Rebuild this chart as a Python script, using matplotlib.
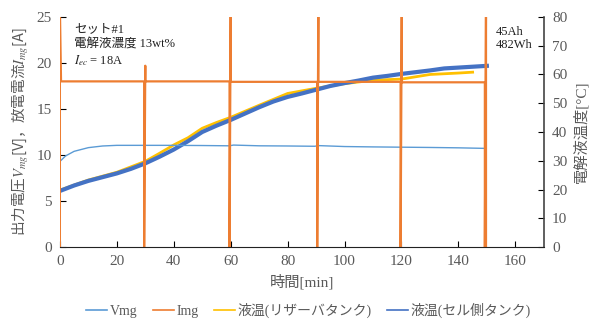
import matplotlib
matplotlib.use("Agg")
import matplotlib.pyplot as plt

# --- fonts ---
plt.rcParams['font.family'] = ['Liberation Serif', 'Noto Sans CJK JP']
plt.rcParams['mathtext.fontset'] = 'stix'

# --- data ---
# discharge current Img [A], with spikes at every 30 min
img_t = [0, 0, 0.4, 29.6, 29.6, 30.0, 30.0, 59.6, 59.6, 60.0, 60.0,
         90.4, 90.4, 90.8, 90.8, 119.7, 119.7, 120.1, 120.1, 149.3, 149.3, 149.7, 149.7]
img_v = [0, 26, 18.0, 18.0, 0, 19.7, 18.0, 18.0, 0, 26, 17.95,
         17.95, 0, 26, 17.95, 17.95, 0, 26, 17.9, 17.9, 0, 26, 0]

# output voltage Vmg [V]
vmg_t = [0, 0, 2, 5, 10, 15, 20, 30, 40, 50, 59.5, 61, 70, 80, 89.5, 91, 100, 110, 120, 130, 140, 149.5, 149.6]
vmg_v = [0, 9.3, 9.9, 10.4, 10.8, 10.98, 11.05, 11.05, 11.05, 11.03, 11.0, 11.08, 11.0, 10.98, 10.95, 11.02,
         10.92, 10.88, 10.85, 10.82, 10.78, 10.72, 0]

# electrolyte temperature, reservoir tank [°C]
res_t = [0, 10, 20, 30, 35, 40, 45, 50, 55, 60, 70, 80, 90, 100, 110, 120, 130, 140, 145]
res_T = [19.8, 23.3, 26.0, 29.8, 32.6, 35.5, 38.0, 41.3, 43.3, 45.1, 49.3, 53.4, 55.2, 56.8, 58.0,
         58.4, 60.0, 60.5, 60.8]

# electrolyte temperature, cell-side tank [°C]
cell_t = [0, 5, 10, 15, 20, 25, 30, 35, 40, 45, 50, 55, 60, 65, 70, 75, 80, 85, 90, 95, 100,
          105, 110, 115, 120, 125, 130, 135, 140, 145, 150]
cell_T = [19.5, 21.4, 23.0, 24.3, 25.6, 27.2, 29.1, 31.4, 33.9, 36.8, 40.0, 42.2, 44.2, 46.4, 48.6,
          50.6, 52.2, 53.4, 54.7, 56.0, 57.0, 57.9, 58.9, 59.5, 60.2, 60.8, 61.4, 62.1, 62.4, 62.7, 63.0]

labels = ["Vmg", "Img", "液温(リザーバタンク)", "液温(セル側タンク)"]
c_vmg, c_img, c_res, c_cell = "#5B9BD5", "#ED7D31", "#FFC000", "#4472C4"
gray = "#595959"

fig = plt.figure(figsize=(5.93, 3.2), dpi=100)
ax = fig.add_axes([0.101, 0.228, 0.816, 0.719])
ax2 = ax.twinx()

# temperature on secondary axis
ax2.plot(res_t, res_T, color=c_res, lw=2.0, label=labels[2])
ax2.plot(cell_t, cell_T, color=c_cell, lw=3.0, label=labels[3])
ax2.set_ylim(0, 80)
ax2.set_yticks(range(0, 81, 10))

ax.set_zorder(ax2.get_zorder() + 1)
ax.patch.set_visible(False)
ax.plot(vmg_t, vmg_v, color=c_vmg, lw=1.0, label=labels[0])
ax.plot(img_t, img_v, color=c_img, lw=1.6, label=labels[1])
ax.set_xlim(0, 170)
ax.set_ylim(0, 25)
ax.set_xticks(range(0, 161, 20))
ax.set_yticks(range(0, 26, 5))

for a in (ax, ax2):
    a.spines['top'].set_visible(False)
    a.tick_params(direction='in', labelsize=11, labelcolor=gray, length=4, pad=6)
ax.spines['left'].set_visible(False)
ax2.spines['left'].set_visible(False)
ax.spines['right'].set_visible(False)
ax2.spines['bottom'].set_visible(False)
ax.spines['bottom'].set_color("#222222")
ax2.spines['right'].set_color("#444444")
ax2.spines['right'].set_linewidth(1.2)

ax.set_xlabel("時間[min]", fontsize=11, color=gray, labelpad=4)
ax.set_ylabel("出力電圧$V_{mg}$[V]，放電電流$I_{mg}$[A]", fontsize=10.5, color=gray,
              labelpad=4, fontfamily='Noto Sans CJK JP')
ax2.set_ylabel("電解液温度[°C]", fontsize=11, color=gray, labelpad=4)

# annotations
ax.text(5, 23.7, "セット#1", fontsize=9, color="#222222", va='center')
ax.text(5, 22.0, "電解液濃度 13wt%", fontsize=9, color="#222222", va='center')
ax.text(5, 20.3, "$I_{ec}$ = 18A", fontsize=9, color="#222222", va='center')
ax.text(153, 23.4, "45Ah", fontsize=9, color="#222222", va='center')
ax.text(153, 21.9, "482Wh", fontsize=9, color="#222222", va='center')

h1, l1 = ax.get_legend_handles_labels()
h2, l2 = ax2.get_legend_handles_labels()
leg = fig.legend(h1 + h2, l1 + l2, loc='center', bbox_to_anchor=(0.52, 0.03), ncol=4,
                 frameon=False, fontsize=10, handlelength=1.5, columnspacing=1.1, handletextpad=0.2)
for line in leg.get_lines():
    line.set_linewidth(1.2)
for t in leg.get_texts():
    t.set_color(gray)

fig.savefig("out.png", dpi=100)
